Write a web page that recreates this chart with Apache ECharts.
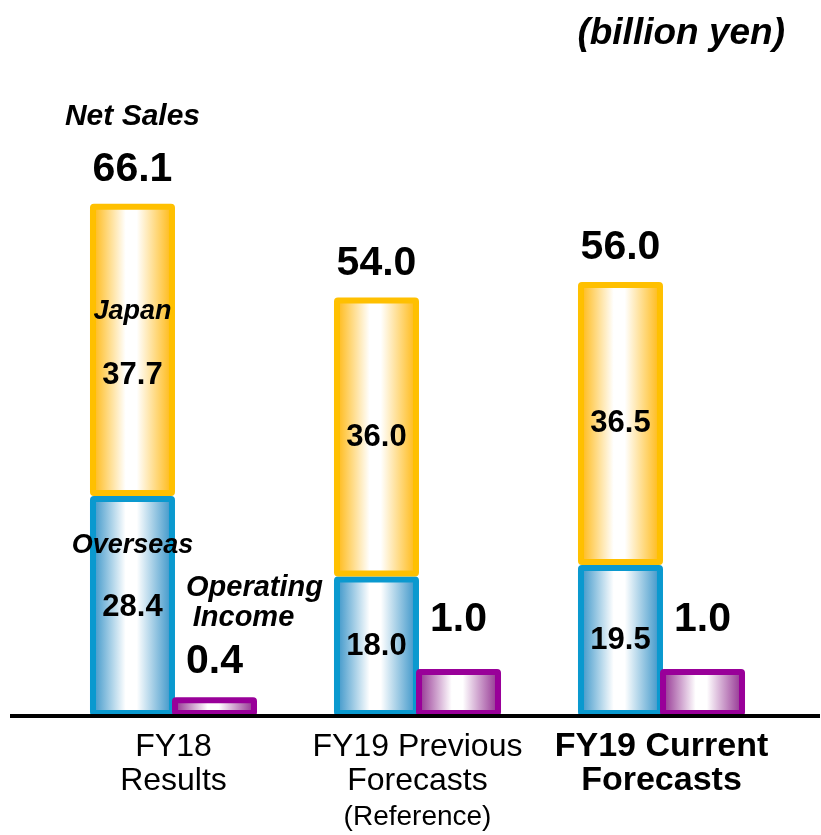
<!DOCTYPE html>
<html>
<head>
<meta charset="utf-8">
<script src="https://cdn.jsdelivr.net/npm/echarts@6/dist/echarts.min.js"></script>
<style>
  html, body { margin: 0; padding: 0; background: #fff; }
  #main { width: 821px; height: 835px; }
</style>
</head>
<body>
<div id="main"></div>
<script>
// data
var categories = ['FY18\nResults', 'FY19 Previous\nForecasts\n(Reference)', 'FY19 Current\nForecasts'];
var overseas = [28.4, 18.0, 19.5];
var japan = [37.7, 36.0, 36.5];
var netSales = [66.1, 54.0, 56.0];
var operatingIncome = [0.4, 1.0, 1.0];

var FONT = 'Liberation Sans, Arial, sans-serif';

function grad(c) {
    return new echarts.graphic.LinearGradient(0, 0, 1, 0, [
        { offset: 0, color: c },
        { offset: 0.42, color: '#ffffff' },
        { offset: 0.55, color: '#ffffff' },
        { offset: 1, color: c }
    ]);
}

var myChart = echarts.init(document.getElementById('main'));

var option = {
    animation: false,
    backgroundColor: '#fff',
    grid: { left: 51.5, right: 37.5, top: 96, bottom: 119 },
    xAxis: {
        type: 'category',
        data: categories,
        axisLine: { show: false },
        axisTick: { show: false },
        axisLabel: {
            interval: 0,
            margin: 14,
            formatter: function (value, idx) {
                var lines = value.split('\n');
                return lines.map(function (l, k) {
                    if (idx === 2) return '{b|' + l + '}';
                    if (k === 2) return '{s|' + l + '}';
                    return '{r|' + l + '}';
                }).join('\n');
            },
            rich: {
                r: { fontFamily: FONT, fontSize: 32, color: '#000', lineHeight: 34 },
                b: { fontFamily: FONT, fontSize: 34, fontWeight: 'bold', color: '#000', lineHeight: 34 },
                s: { fontFamily: FONT, fontSize: 28, color: '#000', lineHeight: 38 }
            }
        }
    },
    yAxis: [
        { type: 'value', min: 0, max: 80, show: false, splitLine: { show: false } },
        { type: 'value', min: 0, max: 13.2, show: false, splitLine: { show: false } }
    ],
    series: [
        {
            name: 'Overseas',
            type: 'bar',
            stack: 'sales',
            barWidth: 85,
            barGap: '-3.5%',
            data: overseas.map(function (v, i) {
                return i === 0 ? { value: v, label: { offset: [0, -29] } } : v;
            }),
            itemStyle: { color: grad('#2a8cc4'), borderColor: '#0a99cf', borderWidth: 6, borderRadius: 1 },
            label: {
                show: true,
                position: 'inside',
                formatter: function (p) {
                    var s = '{v|' + p.value.toFixed(1) + '}';
                    return p.dataIndex === 0 ? '{n|Overseas}\n' + s : s;
                },
                rich: {
                    v: { fontFamily: FONT, fontSize: 31, fontWeight: 'bold', color: '#000', lineHeight: 62 },
                    n: { fontFamily: FONT, fontSize: 27, fontWeight: 'bold', fontStyle: 'italic', color: '#000', lineHeight: 62 }
                }
            }
        },
        {
            name: 'Japan',
            type: 'bar',
            stack: 'sales',
            barWidth: 85,
            data: japan.map(function (v, i) {
                return i === 0 ? { value: v, label: { offset: [0, -6] } } : v;
            }),
            itemStyle: { color: grad('#ffb300'), borderColor: '#ffc000', borderWidth: 6, borderRadius: 1 },
            label: {
                show: true,
                position: 'inside',
                formatter: function (p) {
                    var s = '{v|' + p.value.toFixed(1) + '}';
                    return p.dataIndex === 0 ? '{n|Japan}\n' + s : s;
                },
                rich: {
                    v: { fontFamily: FONT, fontSize: 31, fontWeight: 'bold', color: '#000', lineHeight: 64 },
                    n: { fontFamily: FONT, fontSize: 27, fontWeight: 'bold', fontStyle: 'italic', color: '#000', lineHeight: 64 }
                }
            }
        },
        {
            name: 'Net Sales',
            type: 'bar',
            stack: 'sales',
            barWidth: 85,
            data: netSales.map(function () { return 0; }),
            itemStyle: { color: 'transparent', borderWidth: 0 },
            label: {
                show: true,
                position: 'top',
                distance: 10,
                formatter: function (p) {
                    var s = '{b|' + netSales[p.dataIndex].toFixed(1) + '}';
                    return p.dataIndex === 0 ? '{a|Net Sales}\n' + s : s;
                },
                rich: {
                    a: { fontFamily: FONT, fontSize: 30, fontWeight: 'bold', fontStyle: 'italic', color: '#000', lineHeight: 58 },
                    b: { fontFamily: FONT, fontSize: 41, fontWeight: 'bold', color: '#000', lineHeight: 48 }
                }
            }
        },
        {
            name: 'Operating Income',
            type: 'bar',
            yAxisIndex: 1,
            barWidth: 85,
            data: operatingIncome.map(function (v, i) {
                return i === 0 ? v : { value: v, label: { distance: 21 } };
            }),
            itemStyle: { color: grad('#8a2088'), borderColor: '#990099', borderWidth: 6, borderRadius: 1 },
            label: {
                show: true,
                position: 'top',
                distance: 8,
                formatter: function (p) {
                    var s = '{b|' + p.value.toFixed(1) + '}';
                    return p.dataIndex === 0 ? '{a|Operating}\n{i|Income}\n' + s : s;
                },
                rich: {
                    a: { fontFamily: FONT, fontSize: 29, fontWeight: 'bold', fontStyle: 'italic', color: '#000', lineHeight: 30, padding: [0, 0, 0, 80] },
                    i: { fontFamily: FONT, fontSize: 29, fontWeight: 'bold', fontStyle: 'italic', color: '#000', lineHeight: 30, padding: [0, 0, 0, 58] },
                    b: { fontFamily: FONT, fontSize: 41, fontWeight: 'bold', color: '#000', lineHeight: 56 }
                }
            }
        }
    ],
    graphic: [
        {
            type: 'line',
            z: 100,
            shape: { x1: 10, y1: 716, x2: 820, y2: 716 },
            style: { stroke: '#000', lineWidth: 4 }
        },
        {
            type: 'text',
            x: 785,
            y: 34,
            style: {
                text: '(billion yen)',
                fontFamily: FONT,
                fontSize: 37,
                fontWeight: 'bold',
                fontStyle: 'italic',
                fill: '#000',
                align: 'right',
                verticalAlign: 'middle'
            }
        }
    ]
};

myChart.setOption(option);
</script>
</body>
</html>
